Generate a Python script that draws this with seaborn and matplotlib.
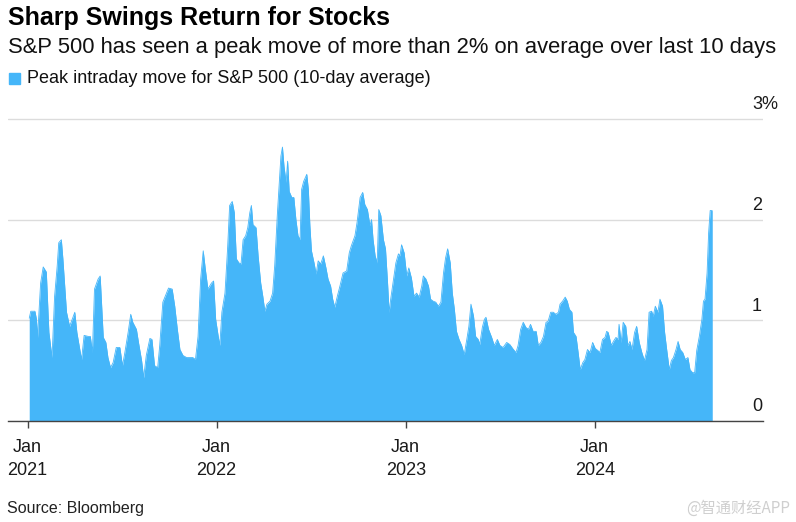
import matplotlib
matplotlib.use("Agg")
import pandas as pd
import seaborn as sns
import matplotlib.pyplot as plt
from matplotlib.patches import Rectangle

title = "Sharp Swings Return for Stocks"
subtitle = "S&P 500 has seen a peak move of more than 2% on average over last 10 days"
legend_label = "Peak intraday move for S&P 500 (10-day average)"
source = "Source: Bloomberg"
watermark = "@智通财经APP"

# days counted from start_date
start_date = "2021-01-01"
day_offset = [
    3, 6, 14, 17, 19, 25, 30, 36, 41, 47, 52, 57, 60, 65, 68, 75, 81, 91, 95, 104,
    109, 117, 121, 125, 129, 136, 140, 146, 151, 155, 160, 165, 171, 178, 183, 187, 194, 199, 203, 210,
    214, 220, 224, 229, 236, 240, 245, 251, 255, 261, 268, 272, 279, 284, 289, 294, 300, 307, 313, 319,
    324, 329, 334, 339, 343, 348, 355, 359, 363, 368, 371, 375, 381, 386, 390, 395, 399, 403, 408, 412,
    416, 421, 425, 429, 432,
    435, 441, 445, 450, 454, 458, 462, 468, 473, 477, 482, 486, 489, 492, 495, 499, 502, 505, 510, 514,
    518, 522, 526, 529, 533, 539, 542, 545, 548, 553, 557, 561, 566, 571, 576, 580, 585, 589, 593, 598,
    603, 609, 616, 621, 625, 632, 636, 642, 647, 651, 656,
    661, 664, 667, 671, 675, 678, 682, 687, 691, 695, 698, 701, 706, 711, 716, 719, 722, 727, 732, 736,
    741, 746, 751, 756, 761, 764, 769, 774, 778, 783, 788, 793, 798, 803, 807, 811, 816, 820, 824, 828,
    833, 838, 843, 848, 852, 856, 861, 865, 870, 873, 878, 882,
    885, 890, 896, 901, 907, 912, 918, 925, 931, 938, 943, 947, 952, 957, 962, 967, 971, 976, 982, 986,
    991, 996, 1001, 1005, 1010, 1015, 1020, 1025, 1028, 1033, 1038, 1042, 1046, 1051, 1054, 1059, 1063,
    1067, 1072, 1076, 1081, 1086, 1091, 1096, 1101,
    1105, 1110, 1115, 1118, 1121, 1127, 1131, 1136, 1140, 1142, 1146, 1150, 1155, 1159, 1163, 1167, 1172,
    1176, 1181, 1186, 1191, 1196, 1200, 1205, 1208, 1212, 1217, 1221, 1226, 1230, 1234, 1239, 1243, 1247,
    1252, 1256, 1260, 1265, 1270, 1275, 1279, 1284, 1288, 1292, 1297, 1302, 1305, 1308, 1312, 1315, 1318,
    1322,
]
# peak intraday move, %, 10-day average
peak_move = [
    1.02, 1.09, 1.09, 1.01, 0.83, 1.37, 1.53, 1.48, 0.88, 0.63, 1.24, 1.54, 1.77, 1.80, 1.61, 1.08, 0.94, 1.08, 0.88, 0.61,
    0.85, 0.84, 0.84, 0.68, 1.31, 1.41, 1.44, 0.83, 0.78, 0.63, 0.53, 0.58, 0.73, 0.73, 0.55, 0.66, 0.88, 1.06, 0.98, 0.91,
    0.78, 0.60, 0.43, 0.65, 0.82, 0.81, 0.55, 0.53, 0.75, 1.18, 1.27, 1.32, 1.31, 1.14, 0.91, 0.71, 0.65, 0.63, 0.63, 0.63,
    0.61, 0.84, 1.41, 1.69, 1.51, 1.31, 1.37, 1.39, 1.01, 0.84, 0.75, 1.08, 1.27, 1.71, 2.14, 2.18, 2.07, 1.61, 1.57, 1.56,
    1.80, 1.84, 1.92, 2.07, 2.14,
    1.95, 1.92, 1.64, 1.37, 1.24, 1.09, 1.16, 1.19, 1.27, 1.54, 2.04, 2.37, 2.63, 2.72, 2.53, 2.37, 2.58, 2.28, 2.22, 2.22,
    2.00, 1.84, 1.80, 2.30, 2.38, 2.45, 2.30, 1.94, 1.69, 1.57, 1.46, 1.59, 1.56, 1.64, 1.52, 1.41, 1.34, 1.21, 1.13, 1.24,
    1.34, 1.47, 1.49, 1.67, 1.74, 1.84, 1.97, 2.22, 2.27, 2.15, 2.10,
    1.94, 2.00, 1.80, 1.64, 1.57, 2.10, 2.04, 1.80, 1.71, 1.37, 1.08, 1.21, 1.39, 1.57, 1.66, 1.64, 1.75, 1.67, 1.44, 1.52,
    1.42, 1.24, 1.27, 1.23, 1.34, 1.44, 1.41, 1.34, 1.21, 1.19, 1.18, 1.14, 1.18, 1.47, 1.62, 1.71, 1.57, 1.27, 1.11, 0.89,
    0.81, 0.75, 0.66, 0.81, 0.94, 1.16, 1.04, 0.84, 0.81, 0.76, 0.93, 1.01,
    1.03, 0.91, 0.83, 0.75, 0.81, 0.75, 0.73, 0.78, 0.76, 0.71, 0.68, 0.75, 0.91, 0.98, 0.93, 0.91, 0.96, 0.89, 0.89, 0.75,
    0.78, 0.84, 0.98, 0.99, 1.08, 1.08, 1.06, 1.08, 1.16, 1.19, 1.23, 1.19, 1.11, 1.08, 0.88, 0.84, 0.68,
    0.51, 0.58, 0.61, 0.71, 0.68, 0.78, 0.72, 0.70,
    0.68, 0.81, 0.83, 0.89, 0.88, 0.75, 0.79, 0.83, 0.81, 0.96, 0.78, 0.98, 0.94, 0.75, 0.79, 0.71, 0.88,
    0.94, 0.78, 0.68, 0.60, 0.71, 1.08, 1.09, 1.04, 1.14, 1.08, 1.21, 1.14, 0.88, 0.71, 0.51, 0.60, 0.63,
    0.71, 0.79, 0.71, 0.68, 0.61, 0.63, 0.51, 0.48, 0.48, 0.70, 0.84, 1.01, 1.19, 1.21, 1.47, 1.87, 2.09,
    2.09,
]

x_ticks = ["2021-01-01", "2022-01-01", "2023-01-01", "2024-01-01"]
x_tick_labels = ["Jan\n2021", "Jan\n2022", "Jan\n2023", "Jan\n2024"]
y_ticks = [0, 1, 2, 3]
y_tick_labels = ["0", "1", "2", "3%"]

BLUE = "#45b6f9"
W, H = 796, 522

def fx(px):
    return px / W

def fy(py):
    return 1 - py / H

sns.set_theme(style="white")
plt.rcParams['font.family'] = ['Liberation Sans', 'DejaVu Sans']

df = pd.DataFrame({
    "date": pd.Timestamp(start_date) + pd.to_timedelta(day_offset, unit="D"),
    "move": peak_move,
})

fig = plt.figure(figsize=(W / 100, H / 100), dpi=100)
# plot area: 0% at y=421px, 1% per ~100.7px, a bit of room above 3%
y_top = 3.05
ax = fig.add_axes([fx(8), fy(421), fx(763) - fx(8), 100.7 * y_top / H])

ax.fill_between(df["date"], 0, df["move"], color=BLUE, lw=0, zorder=2)
sns.lineplot(data=df, x="date", y="move", color=BLUE, lw=0.6, ax=ax, zorder=3)

ax.set_xlim(pd.Timestamp("2020-11-24"), pd.Timestamp("2024-11-21"))
ax.set_ylim(0, y_top)
ax.set_xlabel("")
ax.set_ylabel("")

for s in ["left", "right", "top"]:
    ax.spines[s].set_visible(False)
ax.spines["bottom"].set_color("#444444")
ax.spines["bottom"].set_linewidth(1.0)
ax.spines["bottom"].set_zorder(4)

ax.set_yticks(y_ticks)
ax.yaxis.grid(True, color="#dcdcdc", lw=1.0)
ax.set_axisbelow(True)
ax.tick_params(axis="y", left=False, right=False, labelleft=False, labelright=False)

for v, lab in zip(y_ticks, y_tick_labels):
    ax.annotate(lab, xy=(0.9855, v), xycoords=ax.get_yaxis_transform(),
                xytext=(0, 7), textcoords="offset points",
                ha="left", va="baseline", fontsize=13, color="#1a1a1a")

ax.set_xticks(pd.to_datetime(x_ticks))
ax.set_xticklabels(x_tick_labels)
ax.tick_params(axis="x", bottom=True, direction="out", length=5, width=1,
               color="#444444", pad=8, labelsize=13, labelcolor="#1a1a1a")
for lab in ax.get_xticklabels():
    lab.set_linespacing(1.45)

fig.text(fx(8), fy(25), title, fontsize=18, fontweight="bold", va="baseline", color="#000000")
fig.text(fx(8), fy(53), subtitle, fontsize=15.8, va="baseline", color="#111111")
fig.add_artist(Rectangle((fx(9), fy(84)), 11 / W, 11 / H, color=BLUE,
                         transform=fig.transFigure))
fig.text(fx(27), fy(83), legend_label, fontsize=13, va="baseline", color="#111111")
fig.text(fx(7), fy(513), source, fontsize=11.5, va="baseline", color="#222222")
fig.text(fx(790), fy(513), watermark, fontsize=11, ha="right", va="baseline",
         color="#cfcfcf", family=["Noto Sans CJK SC", "DejaVu Sans"])

fig.savefig("out.png", dpi=100)
